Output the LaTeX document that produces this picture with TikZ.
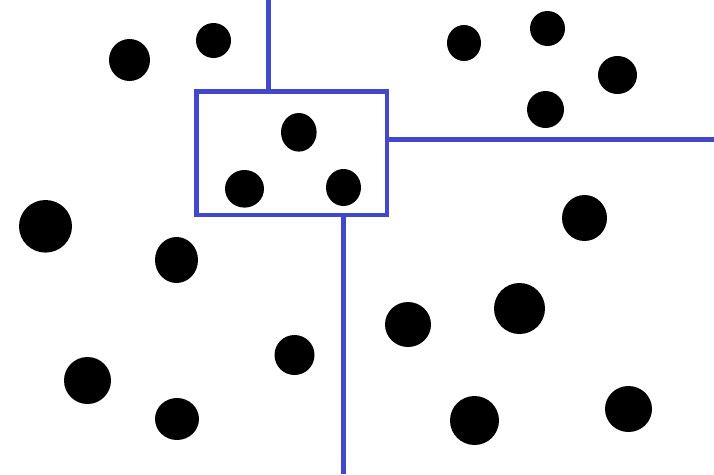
\documentclass[tikz,border=0pt]{standalone}
\usetikzlibrary{shapes.geometric}
\definecolor{splitblue}{RGB}{66,72,204}
\tikzset{
  dot/.style={ellipse, fill=black, draw=none, inner sep=0pt},
  split/.style={draw=splitblue, line width=4.6pt},
}
\newcommand{\dotat}[5]{\node[dot, minimum width=#4pt, minimum height=#5pt] (#1) at (#2,#3) {};}
\begin{document}
\begin{tikzpicture}[x=1pt,y=-1pt]
\useasboundingbox (0,0) rectangle (714,474);
\fill[white] (0,0) rectangle (714,474);
% region box
\node[split, rectangle, minimum width=190.5pt, minimum height=123.3pt, inner sep=0pt] (box) at (291.75,153.35) {};
\coordinate (top) at (268.3,0);
\coordinate (right) at (714,139.3);
\coordinate (bottom) at (343.5,474);
\draw[split] (top) -- (top |- box.north);
\draw[split] (right) -- (right -| box.east);
\draw[split] (bottom) -- (bottom |- box.south);
% points
\dotat{p1}{129.5}{60}{41}{42}
\dotat{p2}{213.5}{40.5}{35}{35}
\dotat{p3}{464}{43}{34}{36}
\dotat{p4}{547.5}{28.5}{35}{35}
\dotat{p5}{617.5}{75}{39}{38}
\dotat{p6}{545.5}{109.5}{37}{37}
\dotat{p7}{298.8}{132.3}{35.6}{38.6}
\dotat{p8}{244.5}{188.8}{39}{37.6}
\dotat{p9}{343.5}{187.5}{35}{37}
\dotat{p10}{45.5}{226.3}{53}{52.6}
\dotat{p11}{176.5}{260}{43}{46}
\dotat{p12}{584.5}{218}{45}{46}
\dotat{p13}{519.5}{308.5}{51}{51}
\dotat{p14}{408}{324.5}{46}{45}
\dotat{p15}{294.5}{355}{40}{40}
\dotat{p16}{87.5}{380.5}{47}{47}
\dotat{p17}{177}{419}{44}{42}
\dotat{p18}{474.5}{420.5}{49}{49}
\dotat{p19}{628.5}{409}{47}{46}
\end{tikzpicture}
\end{document}
